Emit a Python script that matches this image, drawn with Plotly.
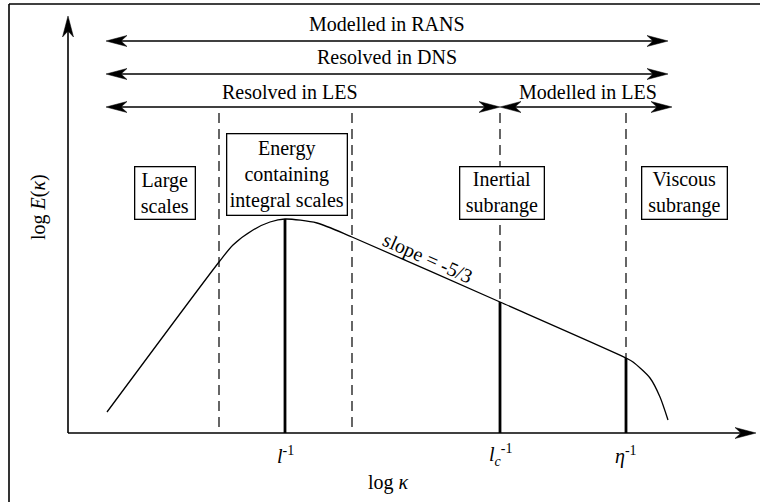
import numpy as np
import plotly.graph_objects as go

# Schematic turbulent energy spectrum, log E(kappa) against log kappa (arbitrary units)
log_k = [0.39, 1.51, 1.65, 1.85, 2.02, 2.17, 2.49, 2.84, 4.32, 5.58, 5.65, 5.82, 5.92, 6.00]
log_E = [0.21, 1.71, 1.88, 2.03, 2.11, 2.14, 2.10, 1.96, 1.31, 0.75, 0.71, 0.55, 0.36, 0.13]

# Characteristic wavenumbers marked on the k axis
scale_labels = ["<i>l</i><sup>-1</sup>", "<i>l<sub>c</sub></i><sup>-1</sup>", "<i>η</i><sup>-1</sup>"]
scale_k = [2.17, 4.32, 5.58]

# Boundaries between spectral ranges and the range names
region_bounds = [1.51, 2.84, 4.32, 5.58]
region_labels = ["Large<br>scales", "Energy<br>containing<br>integral scales",
                 "Inertial<br>subrange", "Viscous<br>subrange"]
region_k = [0.965, 2.185, 4.335, 6.16]

# Wavenumber spans covered by each modelling approach
span_labels = ["Modelled in RANS", "Resolved in DNS", "Resolved in LES", "Modelled in LES"]
span_start = [0.38, 0.38, 0.38, 4.32]
span_end = [6.00, 6.00, 4.32, 6.04]

# ---- layout constants ----
FONT = dict(family="Liberation Serif", size=20, color="black")
span_y = [3.92, 3.59, 3.26, 3.26]
span_label_y = [4.09, 3.76, 3.41, 3.41]
span_label_k = [3.19, 3.19, 2.22, 5.20]
region_y = [2.405, 2.59, 2.405, 2.405]
region_w = [61, 121, 85, 86]
region_h = [53, 82, 53, 53]
dash_top = 3.20
k_axis_end = 6.88
E_axis_end = 4.17

fig = go.Figure()

# spectrum curve
fig.add_trace(go.Scatter(x=log_k, y=log_E, mode="lines",
                         line=dict(color="black", width=1.3, shape="spline", smoothing=0.7),
                         hoverinfo="skip"))

shapes = []


def seg(x0, y0, x1, y1, width=1.4, dash=None):
    shapes.append(dict(type="line", xref="x", yref="y", x0=x0, y0=y0, x1=x1, y1=y1,
                       line=dict(color="black", width=width, dash=dash), layer="below"))


def head(x, y, direction):
    # stealth arrowhead, sized in pixels, anchored at its tip
    pts = [(0, 0), (-21, 5.5), (-15, 0), (-21, -5.5)]
    if direction == "left":
        pts = [(-px, py) for px, py in pts]
    elif direction == "up":
        pts = [(py, px) for px, py in pts]
    path = "M" + " L".join(f"{px},{py}" for px, py in pts) + " Z"
    shapes.append(dict(type="path", xref="x", yref="y", xsizemode="pixel", ysizemode="pixel",
                       xanchor=x, yanchor=y, path=path, fillcolor="black",
                       line=dict(color="black", width=0.5)))


# coordinate axes with arrows
seg(0, 0, k_axis_end - 0.05, 0, width=1.6)
head(k_axis_end, 0, "right")
seg(0, 0, 0, E_axis_end - 0.05, width=1.6)
head(0, E_axis_end, "up")

# range boundaries (dashed), stopping at the curve beyond the integral scales
E_at = lambda k: float(np.interp(k, log_k, log_E))
for i, kb in enumerate(region_bounds):
    bottom = 0.03 if i < 2 else E_at(kb)
    seg(kb, dash_top, kb, bottom, width=1.2, dash="10px,6px")

# characteristic wavenumbers (thick)
for k in scale_k:
    seg(k, 0, k, E_at(k), width=2.8)

# span arrows
for s0, s1, y in zip(span_start, span_end, span_y):
    seg(s0 + 0.05, y, s1 - 0.05, y, width=1.4)
    head(s0, y, "left")
    head(s1, y, "right")

# outer frame (top and left edges)
shapes.append(dict(type="line", xref="paper", yref="paper", x0=9 / 760, y0=1 - 4 / 502,
                   x1=1, y1=1 - 4 / 502, line=dict(color="black", width=1.6)))
shapes.append(dict(type="line", xref="paper", yref="paper", x0=9 / 760, y0=0,
                   x1=9 / 760, y1=1 - 4 / 502, line=dict(color="black", width=1.6)))

annotations = []
for text, x, y in zip(span_labels, span_label_k, span_label_y):
    annotations.append(dict(x=x, y=y, text=text, showarrow=False, font=FONT,
                            xanchor="center", yanchor="middle"))

for text, x, y, w, h in zip(region_labels, region_k, region_y, region_w, region_h):
    annotations.append(dict(x=x, y=y, text=text, showarrow=False, font=FONT,
                            xanchor="center", yanchor="middle", width=w - 4, height=h - 4,
                            bgcolor="white", bordercolor="black", borderwidth=1.3,
                            borderpad=1))

for text, k in zip(scale_labels, scale_k):
    annotations.append(dict(x=k, y=-0.22, text=text, showarrow=False, font=FONT,
                            xanchor="center", yanchor="middle"))

annotations.append(dict(x=3.20, y=-0.49, text="log <i>κ</i>", showarrow=False, font=FONT,
                        xanchor="center", yanchor="middle"))
annotations.append(dict(x=-0.30, y=2.26, text="log <i>E</i>(<i>κ</i>)", showarrow=False,
                        font=FONT, textangle=-90, xanchor="center", yanchor="middle"))
annotations.append(dict(x=3.60, y=1.75, text="slope = -5/3", showarrow=False, font=FONT,
                        textangle=24, xanchor="center", yanchor="middle"))

fig.update_layout(
    width=760, height=502,
    margin=dict(l=0, r=0, t=0, b=0),
    paper_bgcolor="white", plot_bgcolor="white",
    showlegend=False,
    xaxis=dict(range=[-0.68, 6.92], visible=False, fixedrange=True),
    yaxis=dict(range=[-0.69, 4.33], visible=False, fixedrange=True),
    shapes=shapes,
    annotations=annotations,
)

fig.write_html("out.html", config={"displayModeBar": False, "staticPlot": True})
